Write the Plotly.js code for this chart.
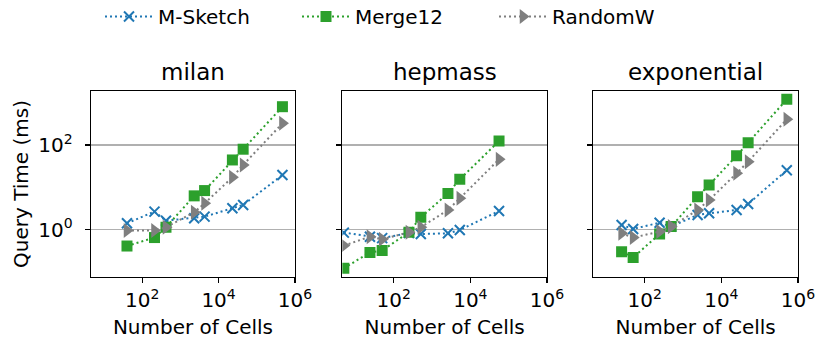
<!DOCTYPE html>
<html>
<head>
<meta charset="utf-8">
<script src="https://cdn.plot.ly/plotly-3.0.1.min.js"></script>
<style>
  body { margin: 0; background: #fff; }
  #chart { width: 830px; height: 354px; }
</style>
</head>
<body>
<div id="chart"></div>
<script>
const panels = ['milan', 'hepmass', 'exponential'];
const seriesNames = ['M-Sketch', 'Merge12', 'RandomW'];

const milanCells = [40, 210, 420, 2300, 4300, 23000, 44000, 470000];
const milanMSketch = [1.42, 2.67, 1.63, 1.86, 2.03, 3.21, 3.84, 19.6];
const milanMerge12 = [0.41, 0.65, 1.14, 6.3, 8.4, 44.5, 80, 810];
const milanRandomW = [0.95, 0.95, 1.14, 2.58, 4.2, 17.3, 34, 327];

const hepmassCells = [5, 24, 50, 250, 510, 2600, 5300, 56000];
const hepmassMSketch = [0.85, 0.68, 0.63, 0.83, 0.79, 0.82, 0.98, 2.77];
const hepmassMerge12 = [0.122, 0.29, 0.32, 0.87, 1.96, 7.2, 15.5, 125];
const hepmassRandomW = [0.42, 0.68, 0.59, 0.87, 1.14, 2.92, 5.5, 46];

const exponentialCells = [25, 50, 245, 490, 2400, 4800, 25000, 50000, 510000];
const exponentialMSketch = [1.29, 1.04, 1.46, 1.18, 2.23, 2.44, 2.92, 4.06, 25.5];
const exponentialMerge12 = [0.30, 0.22, 0.79, 1.18, 6.0, 11.4, 56, 114, 1210];
const exponentialRandomW = [0.82, 0.65, 0.90, 1.18, 2.92, 5.0, 21.5, 40.6, 407];

const xTickVals = [1e2, 1e4, 1e6];
const xTickText = ['10<sup>2</sup>', '10<sup>4</sup>', '10<sup>6</sup>'];
const yTickVals = [1, 100];
const yTickText = ['10<sup>0</sup>', '10<sup>2</sup>'];

const panelData = [
    { cells: milanCells, ys: [milanMSketch, milanMerge12, milanRandomW] },
    { cells: hepmassCells, ys: [hepmassMSketch, hepmassMerge12, hepmassRandomW] },
    { cells: exponentialCells, ys: [exponentialMSketch, exponentialMerge12, exponentialRandomW] }
];

const colors = ['#1f77b4', '#2ca02c', '#7f7f7f'];
const markers = [
    { symbol: 'x-thin', size: 10, line: { width: 2, color: colors[0] } },
    { symbol: 'square', size: 11, color: colors[1], line: { width: 0 } },
    { symbol: 'triangle-right', size: 13, color: colors[2], line: { width: 0 } }
];

const FONT = 'DejaVu Sans, sans-serif';
const traces = [];
panelData.forEach((p, i) => {
    const ax = i === 0 ? '' : String(i + 1);
    p.ys.forEach((ys, s) => {
        traces.push({
            x: p.cells,
            y: ys,
            xaxis: 'x' + ax,
            yaxis: 'y' + ax,
            name: seriesNames[s],
            legendgroup: seriesNames[s],
            showlegend: i === 0,
            type: 'scatter',
            mode: 'lines+markers',
            line: { color: colors[s], dash: '2px,3px', width: 2 },
            marker: Object.assign({ color: colors[s] }, markers[s])
        });
    });
});

const domains = [[0, 0.2885], [0.3555, 0.645], [0.7105, 1]];
const layout = {
    width: 830,
    height: 354,
    margin: { l: 91, r: 32, t: 91, b: 77 },
    paper_bgcolor: '#fff',
    plot_bgcolor: '#fff',
    font: { family: FONT, size: 20, color: '#000' },
    showlegend: true,
    legend: {
        orientation: 'h',
        xref: 'container', yref: 'container',
        x: 100 / 830, xanchor: 'left',
        y: 1 - 16.5 / 354, yanchor: 'middle',
        itemwidth: 48,
        entrywidth: 134,
        font: { family: FONT, size: 20 },
        bgcolor: 'rgba(0,0,0,0)'
    },
    annotations: panels.map((name, i) => ({
        text: name,
        xref: 'paper', yref: 'paper',
        x: (domains[i][0] + domains[i][1]) / 2,
        y: 1, xanchor: 'center', yanchor: 'bottom', yshift: 4,
        showarrow: false,
        font: { family: FONT, size: 23 }
    }))
};

domains.forEach((d, i) => {
    const ax = i === 0 ? '' : String(i + 1);
    layout['xaxis' + ax] = {
        domain: d,
        type: 'log',
        range: [0.66, 6],
        tickvals: xTickVals,
        ticktext: xTickText,
        ticks: 'outside', ticklen: 5, tickwidth: 1.3, tickcolor: '#000',
        showline: true, linecolor: '#000', linewidth: 1.3, mirror: true,
        showgrid: false, zeroline: false,
        title: { text: 'Number of Cells', font: { size: 20 }, standoff: 8 },
        tickfont: { size: 20 }
    };
    const yax = {
        anchor: 'x' + ax,
        type: 'log',
        range: [-1.12, 3.28],
        tickvals: yTickVals,
        ticks: 'outside', ticklen: 5, tickwidth: 1.3, tickcolor: '#000',
        showline: true, linecolor: '#000', linewidth: 1.3, mirror: true,
        showgrid: true, gridcolor: '#b0b0b0', gridwidth: 1.3,
        zeroline: false,
        tickfont: { size: 20 }
    };
    if (i === 0) {
        yax.ticktext = yTickText;
        yax.ticklabelstandoff = 8;
        yax.title = { text: 'Query Time (ms)', font: { size: 20 }, standoff: 4 };
    } else {
        yax.showticklabels = false;
    }
    layout['yaxis' + ax] = yax;
});

Plotly.newPlot('chart', traces, layout, { displayModeBar: false, staticPlot: true });
</script>
</body>
</html>
